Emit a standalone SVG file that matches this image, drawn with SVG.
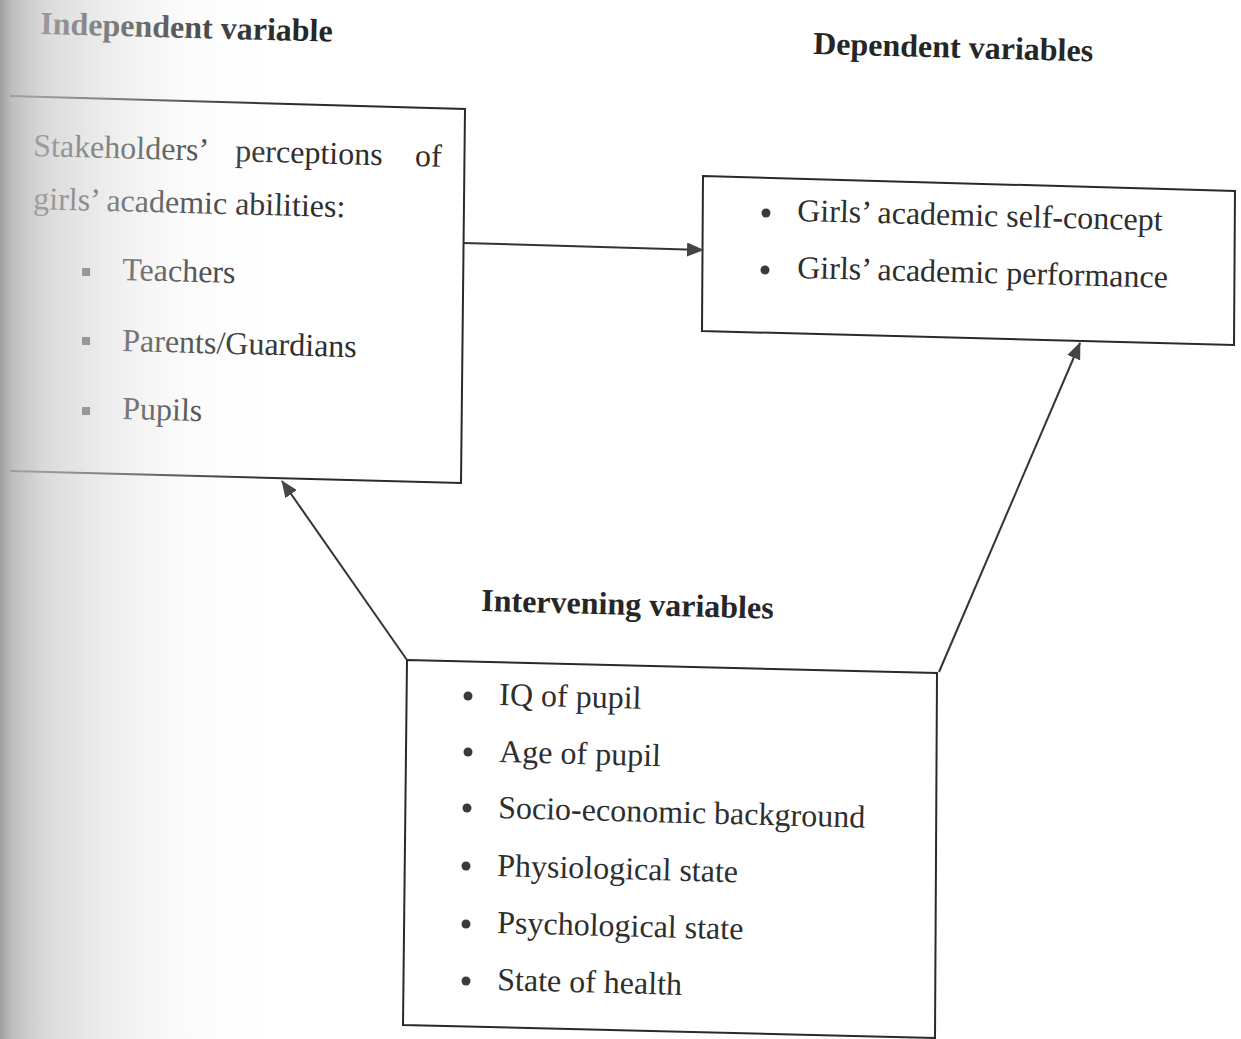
<svg xmlns="http://www.w3.org/2000/svg" width="1241" height="1039" viewBox="0 0 1241 1039">
  <defs>
    <style>
      .t { font-family: "Liberation Serif", "Times New Roman", serif; font-size: 32px; fill: #2e2e2e; }
      .h { font-family: "Liberation Serif", "Times New Roman", serif; font-size: 32px; font-weight: bold; fill: #262626; }
      .box { fill: none; stroke: #2a2a2a; stroke-width: 2; stroke-linejoin: miter; }
      .edge { fill: none; stroke: #333333; stroke-width: 2; }
      .dot { fill: #3a3a3a; }
      .sq { fill: #4a4a4a; }
    </style>
    <marker id="arrow" markerUnits="userSpaceOnUse" markerWidth="18" markerHeight="14" refX="16" refY="7" orient="auto">
      <path d="M0,0 L17,7 L0,14 Z" fill="#444444"/>
    </marker>
    <linearGradient id="shade" x1="0" y1="0" x2="1" y2="0">
      <stop offset="0" stop-color="#9a9a9a" stop-opacity="0.95"/>
      <stop offset="0.04" stop-color="#b3b3b3" stop-opacity="0.85"/>
      <stop offset="0.15" stop-color="#cacaca" stop-opacity="0.7"/>
      <stop offset="0.35" stop-color="#d9d9d9" stop-opacity="0.5"/>
      <stop offset="0.6" stop-color="#ececec" stop-opacity="0.25"/>
      <stop offset="0.85" stop-color="#f5f5f5" stop-opacity="0.06"/>
      <stop offset="1" stop-color="#ffffff" stop-opacity="0"/>
    </linearGradient>
  </defs>

  <rect x="0" y="0" width="1241" height="1039" fill="#ffffff"/>

  <g id="headings">
    <text class="h" x="40" y="34" transform="rotate(1.5 40 34)">Independent variable</text>
    <text class="h" x="813" y="54" transform="rotate(1.5 813 54)">Dependent variables</text>
    <text class="h" x="481" y="611" transform="rotate(1.5 481 611)">Intervening variables</text>
  </g>

  <g id="node-independent">
    <polyline class="box" points="10,96 465,109 461,483 10,471"/>
    <text class="t" x="33" y="156" transform="rotate(1.5 33 156)"><tspan x="33">Stakeholders’</tspan><tspan x="235">perceptions</tspan><tspan x="415">of</tspan></text>
    <text class="t" x="33" y="209" transform="rotate(1.5 33 209)">girls’ academic abilities:</text>
    <rect class="sq" x="82" y="268" width="8" height="8"/>
    <text class="t" x="122" y="280" transform="rotate(1.5 122 280)">Teachers</text>
    <rect class="sq" x="82" y="337" width="8" height="8"/>
    <text class="t" x="122" y="351" transform="rotate(1.5 122 351)">Parents/Guardians</text>
    <rect class="sq" x="82" y="407" width="8" height="8"/>
    <text class="t" x="122" y="419" transform="rotate(1.5 122 419)">Pupils</text>
  </g>

  <g id="node-dependent">
    <polygon class="box" points="703,176 1235,191 1234,345 702,331"/>
    <circle class="dot" cx="766" cy="213" r="4.5"/>
    <text class="t" x="797" y="221" transform="rotate(1.5 797 221)">Girls’ academic self-concept</text>
    <circle class="dot" cx="765" cy="270" r="4.5"/>
    <text class="t" x="797" y="278" transform="rotate(1.5 797 278)">Girls’ academic performance</text>
  </g>

  <g id="node-intervening">
    <polygon class="box" points="407,660 937,673 935,1038 403,1025"/>
    <circle class="dot" cx="468" cy="696" r="4.5"/>
    <text class="t" x="499" y="705" transform="rotate(1.5 499 705)">IQ of pupil</text>
    <circle class="dot" cx="468" cy="752" r="4.5"/>
    <text class="t" x="499" y="762" transform="rotate(1.5 499 762)">Age of pupil</text>
    <circle class="dot" cx="467" cy="808" r="4.5"/>
    <text class="t" x="498" y="818" transform="rotate(1.5 498 818)">Socio-economic background</text>
    <circle class="dot" cx="466" cy="866" r="4.5"/>
    <text class="t" x="497" y="876" transform="rotate(1.5 497 876)">Physiological state</text>
    <circle class="dot" cx="466" cy="924" r="4.5"/>
    <text class="t" x="497" y="933" transform="rotate(1.5 497 933)">Psychological state</text>
    <circle class="dot" cx="466" cy="981" r="4.5"/>
    <text class="t" x="497" y="990" transform="rotate(1.5 497 990)">State of health</text>
  </g>

  <g id="connectors">
    <line class="edge" x1="463" y1="243" x2="703" y2="250" marker-end="url(#arrow)"/>
    <line class="edge" x1="407" y1="660" x2="282" y2="481" marker-end="url(#arrow)"/>
    <line class="edge" x1="939" y1="672" x2="1080" y2="343" marker-end="url(#arrow)"/>
  </g>

  <rect id="scan-shade" x="0" y="0" width="300" height="1039" fill="url(#shade)"/>
</svg>
